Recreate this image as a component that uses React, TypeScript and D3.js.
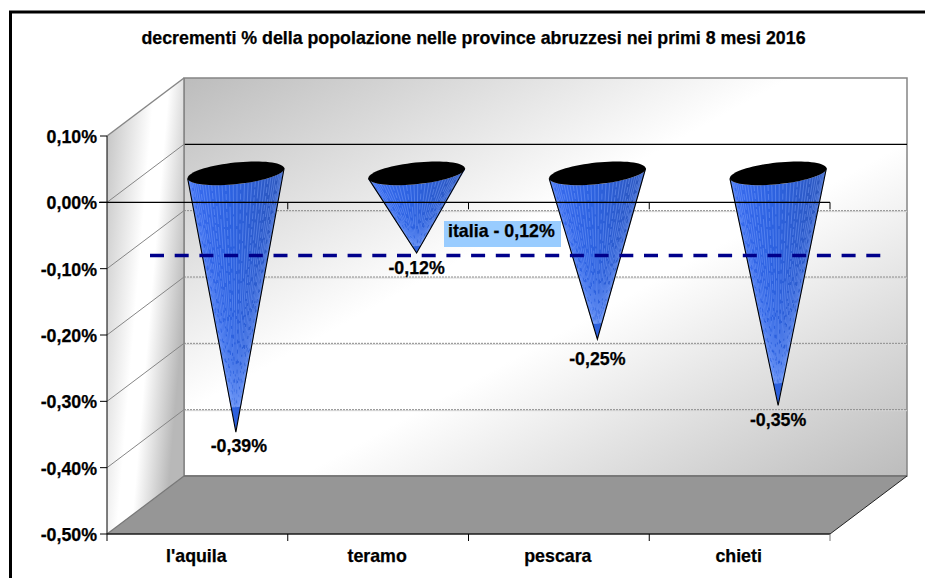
import React from "react";
import * as d3 from "d3";

const title = "decrementi % della popolazione nelle province abruzzesi nei primi 8 mesi 2016";
const categories = ["l'aquila", "teramo", "pescara", "chieti"];
const values = [-0.39, -0.12, -0.25, -0.35];
const valueLabels = ["-0,39%", "-0,12%", "-0,25%", "-0,35%"];
const labelGaps = [14, 15, 19, 14];
const yTicks = [0.1, 0, -0.1, -0.2, -0.3, -0.4, -0.5];
const yTickLabels = ["0,10%", "0,00%", "-0,10%", "-0,20%", "-0,30%", "-0,40%", "-0,50%"];
const italiaLevel = -0.12;
const italiaLabel = "italia - 0,12%";

const W = 925, H = 578;
const FONT = "'Liberation Sans', Arial, sans-serif";
const FS = 17.8;
const DX = 77, DY = -58;
const x = d3.scaleBand<string>().domain(categories).range([107, 830]).paddingInner(0).paddingOuter(0);
const y = d3.scaleLinear().domain([0.1, -0.5]).range([136, 534]);
const midY = (v: number) => y(v) + DY / 2;
const backY = (v: number) => y(v) + DY;

const RX = 48.5, RY = 10.8, TILT = (-6 * Math.PI) / 180;
function rim(cx: number, cy: number, t: number): [number, number] {
  const px = RX * Math.cos(t), py = RY * Math.sin(t);
  return [cx + px * Math.cos(TILT) - py * Math.sin(TILT), cy + px * Math.sin(TILT) + py * Math.cos(TILT)];
}
// t=PI left, t=0 right; front half passes t=PI/2
const facetAngles = d3.range(0, 41).map((i) => Math.PI * (1 - i / 40));

function Cone({ cat, v }: { cat: string; v: number }) {
  const cx = x(cat)! + x.bandwidth() / 2 + DX / 2;
  const cy = midY(0);
  const apex: [number, number] = [cx, midY(v)];
  const line = d3.line();
  const outline = line([...facetAngles.map((t) => rim(cx, cy, t)), apex])! + "Z";
  return (
    <g>
      <path d={outline} fill={`url(#cone-${categories.indexOf(cat)})`} />
      {facetAngles.slice(1, -1).map((t, i) => {
        const p = rim(cx, cy, t);
        return (
          <path key={i} d={line([p, [p[0] + (apex[0] - p[0]) * 0.9, p[1] + (apex[1] - p[1]) * 0.9]])!}
            stroke="#86aaff" strokeOpacity={0.6} strokeWidth={0.7}
            strokeDasharray={`${6 + (i % 4) * 12} ${2 + (i % 3)}`} fill="none" />
        );
      })}
      <path d={line([rim(cx, cy, Math.PI), apex, rim(cx, cy, 0)])!} fill="none" stroke="#000" strokeWidth={1.1} />
      <path d={line(d3.range(0, 73).map((i) => rim(cx, cy, (i / 72) * 2 * Math.PI)))! + "Z"} fill="#000" />
    </g>
  );
}

export default function App() {
  const x0 = x.range()[0], x1 = x.range()[1];
  const top = y(0.1), bot = y(-0.5);
  const line = d3.line();
  const poly = (pts: [number, number][]) => line(pts)! + "Z";
  const catEdges = [...categories.map((c) => x(c)!), x1];
  const textProps = { fontFamily: FONT, fontWeight: "bold", fontSize: FS, fill: "#000", stroke: "#000", strokeWidth: 0.25 };
  return (
    <svg width={W} height={H} viewBox={`0 0 ${W} ${H}`}
      style={{ position: "absolute", left: 0, top: 0, display: "block", background: "#fff" }}>
      <defs>
        <linearGradient id="backWall" x1="0" y1="0" x2="1" y2="1">
          <stop offset="0" stopColor="#bcbcbc" />
          <stop offset="0.42" stopColor="#ffffff" />
          <stop offset="0.58" stopColor="#ffffff" />
          <stop offset="1" stopColor="#bcbcbc" />
        </linearGradient>
        <linearGradient id="sideWall" x1="0" y1="0" x2="1" y2="0.5">
          <stop offset="0" stopColor="#c0c0c0" />
          <stop offset="0.5" stopColor="#ffffff" />
          <stop offset="0.65" stopColor="#ffffff" />
          <stop offset="1" stopColor="#b8b8b8" />
        </linearGradient>
        {categories.map((_, i) => (
          <linearGradient key={i} id={`cone-${i}`} x1="0" y1="0" x2="1" y2="0">
            <stop offset="0" stopColor="#3a6cf0" />
            <stop offset="0.45" stopColor="#2d62e0" />
            <stop offset="1" stopColor="#2c55b8" />
          </linearGradient>
        ))}
      </defs>

      {/* outer frame: only top and left edges fall inside the picture */}
      <path d={line([[10.5, H], [10.5, 12], [W, 12]])!} fill="none" stroke="#000" strokeWidth={3} />

      <text x={473.5} y={44} textAnchor="middle" {...textProps}>{title}</text>

      {/* back wall */}
      <rect x={x0 + DX} y={backY(0.1)} width={x1 - x0} height={bot - top} fill="url(#backWall)" stroke="#858585" strokeWidth={1.5} />
      {yTicks.slice(2, -1).map((t) => (
        <g key={t}>
          <line x1={x0 + DX} x2={x1 + DX} y1={backY(t) + 1} y2={backY(t) + 1} stroke="#d8d8d8" strokeWidth={1} />
          <line x1={x0 + DX} x2={x1 + DX} y1={backY(t)} y2={backY(t)} stroke="#8c8c8c" strokeWidth={1} strokeDasharray="2 1" />
        </g>
      ))}
      <line x1={x0 + DX} x2={x1 + DX} y1={backY(0)} y2={backY(0)} stroke="#000" strokeWidth={1.2} />

      {/* side wall */}
      <path d={poly([[x0, top], [x0 + DX, top + DY], [x0 + DX, bot + DY], [x0, bot]])} fill="url(#sideWall)" />
      <path d={line([[x0, top], [x0 + DX, top + DY]])!} stroke="#868686" strokeWidth={1.5} fill="none" />
      <line x1={x0 + DX} x2={x0 + DX} y1={top + DY} y2={bot + DY} stroke="#858585" strokeWidth={1.5} />
      {yTicks.slice(1, -1).map((t) => (
        <line key={t} x1={x0} y1={y(t)} x2={x0 + DX} y2={y(t) + DY} stroke="#868686" strokeWidth={1} />
      ))}

      {/* floor */}
      <path d={poly([[x0, bot], [x0 + DX, bot + DY], [x1 + DX, bot + DY], [x1, bot]])} fill="#969696" />
      <line x1={x0 + DX} x2={x1 + DX} y1={bot + DY} y2={bot + DY} stroke="#6e6e6e" strokeWidth={1.5} />
      <line x1={x0} y1={bot} x2={x0 + DX} y2={bot + DY} stroke="#777" strokeWidth={1.2} />
      <line x1={x1} y1={bot} x2={x1 + DX} y2={bot + DY} stroke="#222" strokeWidth={1} />

      {/* cones */}
      {categories.map((c, i) => <Cone key={c} cat={c} v={values[i]} />)}

      {/* axes */}
      <line x1={x0 - 8} x2={x1} y1={y(0)} y2={y(0)} stroke="#000" strokeWidth={1.2} />
      {catEdges.slice(1).map((e) => (
        <line key={e} x1={e} x2={e} y1={y(0)} y2={y(0) + 7} stroke="#000" strokeWidth={1} />
      ))}
      <line x1={x0} x2={x0} y1={top} y2={bot + 7} stroke="#000" strokeWidth={1} />
      <line x1={x0} x2={x1} y1={bot} y2={bot} stroke="#1a1a1a" strokeWidth={1.5} />
      {catEdges.slice(1).map((e, i) => (
        <line key={e} x1={e} x2={e} y1={bot} y2={bot + 7} stroke={i === 3 ? "#777" : "#000"} strokeWidth={1} />
      ))}
      {yTicks.map((t, i) => (
        <g key={t}>
          <line x1={x0 - 7} x2={x0} y1={y(t)} y2={y(t)} stroke="#000" strokeWidth={1} />
          <text x={97} y={y(t) + 0.5} dy="0.36em" textAnchor="end" {...textProps}>{yTickLabels[i]}</text>
        </g>
      ))}
      {categories.map((c) => (
        <text key={c} x={x(c)! + x.bandwidth() / 2 - 1} y={556} dy="0.36em" textAnchor="middle" {...textProps}>{c}</text>
      ))}

      {/* italia reference */}
      <line x1={150} x2={883} y1={midY(italiaLevel) + 2.5} y2={midY(italiaLevel) + 2.5} stroke="#00008b" strokeWidth={3.5} strokeDasharray="14 10.7" />
      <rect x={444} y={221} width={117} height={26} fill="#99ccff" />
      <text x={448} y={231} dy="0.36em" {...textProps}>{italiaLabel}</text>

      {/* value labels */}
      {categories.map((c, i) => (
        <text key={c} x={x(c)! + x.bandwidth() / 2 + DX / 2 + (i === 0 ? 3 : 0)} y={midY(values[i]) + labelGaps[i]} dy="0.36em"
          textAnchor="middle" {...textProps}>{valueLabels[i]}</text>
      ))}
    </svg>
  );
}
